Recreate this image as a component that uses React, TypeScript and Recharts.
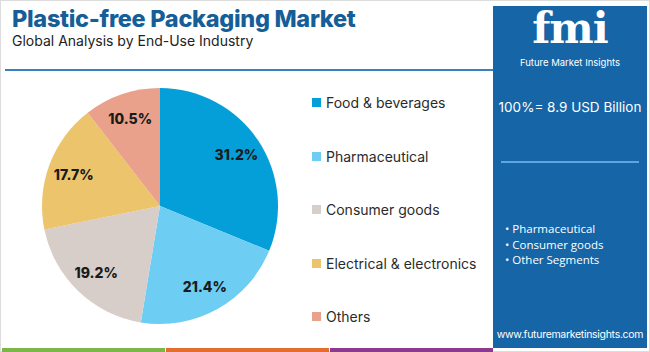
import { PieChart, Pie, Cell, Legend } from "recharts";

const categories = ["Food & beverages", "Pharmaceutical", "Consumer goods", "Electrical & electronics", "Others"];
const shares = [31.2, 21.4, 19.2, 17.7, 10.5];
const colors = ["#049fd9", "#6dcdf2", "#d7cdc9", "#ebc46b", "#eaa18b"];
const panelBullets = ["Pharmaceutical", "Consumer goods", "Other Segments"];
const stripColors = ["#7ab648", "#e26d2e", "#8c3a8f"];

const data = categories.map((name, i) => ({ name, value: shares[i] }));

const RADIAN = Math.PI / 180;

const renderLabel = ({ cx, cy, midAngle, outerRadius, value }: any) => {
  const r = outerRadius * 0.78;
  const x = cx + r * Math.cos(-midAngle * RADIAN);
  const y = cy + r * Math.sin(-midAngle * RADIAN);
  return (
    <text x={x} y={y} textAnchor="middle" dominantBaseline="central" fill="#1a1a1a" fontSize={14} fontWeight={800} fontFamily="Inter, sans-serif">
      {value}%
    </text>
  );
};

const LegendContent = () => (
  <div>
    {categories.map((name, i) => (
      <div key={name} style={{ display: "flex", alignItems: "center", height: 53.5 }}>
        <div style={{ width: 9, height: 9, background: colors[i], marginRight: 5 }} />
        <span style={{ fontSize: 14, color: "#2b2b2b", fontFamily: "Inter, sans-serif" }}>{name}</span>
      </div>
    ))}
  </div>
);

export default function App() {
  return (
    <div style={{ position: "relative", width: 650, height: 352, background: "#fff", overflow: "hidden", fontFamily: "Inter, sans-serif" }}>
      <style>{`body{margin:0}`}</style>
      <div style={{ position: "absolute", inset: 0, border: "1px solid #dcdcdc", boxSizing: "border-box" }} />
      <div style={{ position: "absolute", left: 12, top: 4, fontSize: 23.5, fontWeight: 800, color: "#155e98", letterSpacing: -0.3 }}>
        Plastic-free Packaging Market
      </div>
      <div style={{ position: "absolute", left: 12, top: 32, fontSize: 14, color: "#222" }}>
        Global Analysis by End-Use Industry
      </div>
      <div style={{ position: "absolute", left: 5, top: 69, width: 490, height: 2, background: "#3a7fbf" }} />

      <div style={{ position: "absolute", left: 0, top: 0 }}>
        <PieChart width={490} height={352} margin={{ top: 0, right: 0, bottom: 0, left: 0 }}>
          <Pie
            data={data}
            dataKey="value"
            nameKey="name"
            cx={160}
            cy={206}
            outerRadius={118}
            startAngle={90}
            endAngle={-270}
            stroke="none"
            label={renderLabel}
            labelLine={false}
            isAnimationActive={false}
          >
            {data.map((d, i) => (
              <Cell key={d.name} fill={colors[i]} />
            ))}
          </Pie>
          <Legend content={<LegendContent />} wrapperStyle={{ position: "absolute", left: 312, top: 76, width: 180 }} />
        </PieChart>
      </div>

      <div style={{ position: "absolute", left: 493, top: 6, width: 154, height: 342, background: "#1565a7", color: "#fff" }}>
        <div style={{ position: "absolute", left: 0, width: 154, top: -2, textAlign: "center", fontSize: 42, fontWeight: 900, fontFamily: "DejaVu Serif, serif", letterSpacing: -1, lineHeight: "50px" }}>
          fmi
        </div>
        <div style={{ position: "absolute", left: 0, width: 154, top: 51, textAlign: "center", fontSize: 9.5 }}>
          Future Market Insights
        </div>
        <div style={{ position: "absolute", left: 0, width: 154, top: 93, textAlign: "center", fontSize: 13.5 }}>
          100%= 8.9 USD Billion
        </div>
        <div style={{ position: "absolute", left: 8, top: 155, width: 138, height: 2, background: "#5ea6df" }} />
        <div style={{ position: "absolute", left: 12, top: 215, fontSize: 11.5, lineHeight: "15.5px", fontFamily: "Open Sans, sans-serif" }}>
          {panelBullets.map((b) => (
            <div key={b}>• {b}</div>
          ))}
        </div>
        <div style={{ position: "absolute", left: 0, width: 154, top: 322, textAlign: "center", fontSize: 10.5, letterSpacing: -0.3 }}>
          www.futuremarketinsights.com
        </div>
      </div>

      {stripColors.map((c, i) => (
        <div key={c} style={{ position: "absolute", left: 2 + i * 164, top: 348, width: 163, height: 4, background: c }} />
      ))}
    </div>
  );
}
